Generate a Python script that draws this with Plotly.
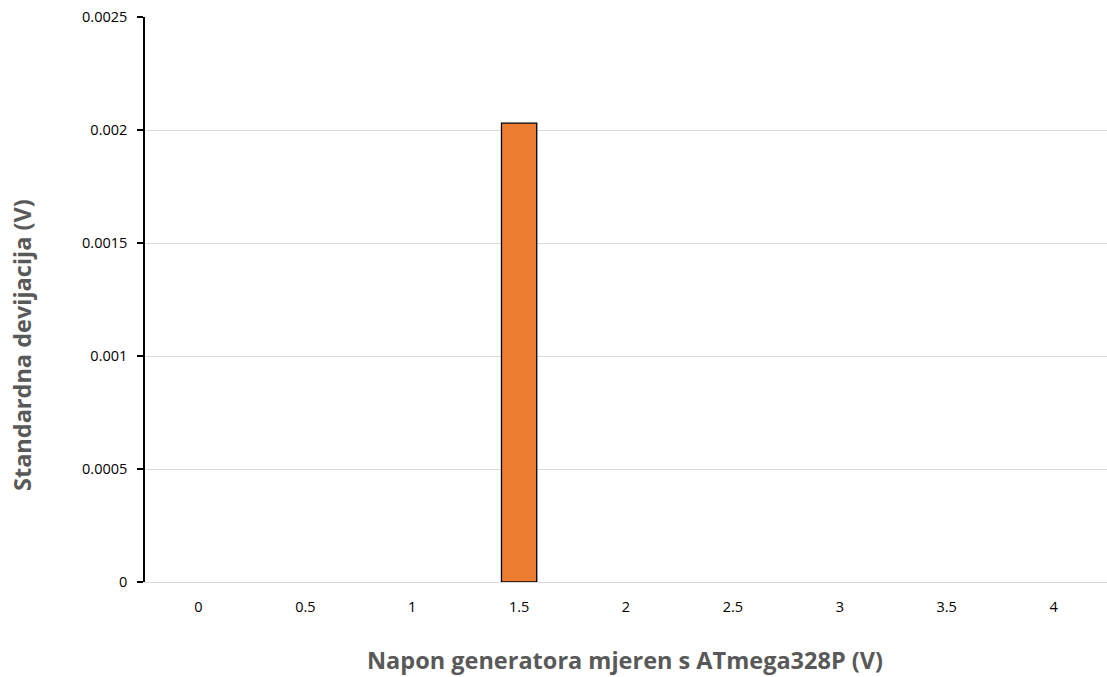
import plotly.graph_objects as go

categories = ["0", "0.5", "1", "1.5", "2", "2.5", "3", "3.5", "4"]
std_dev = [0, 0, 0, 0.00203, 0, 0, 0, 0, 0]
y_ticks = [0, 0.0005, 0.001, 0.0015, 0.002, 0.0025]
y_tick_labels = ["0", "0.0005", "0.001", "0.0015", "0.002", "0.0025"]
x_title = "Napon generatora mjeren s ATmega328P (V)"
y_title = "Standardna devijacija (V)"

W, H = 1107, 677
L, R, T, B = 145, 0, 17, 95

# outline only for bars with height (zero bars are invisible in the reference)
outline_widths = [1.3 if v > 0 else 0 for v in std_dev]

fig = go.Figure(
    go.Bar(
        x=categories,
        y=std_dev,
        marker=dict(color="#ED7D31", line=dict(color="#000000", width=outline_widths)),
    )
)

fig.update_layout(
    width=W,
    height=H,
    paper_bgcolor="white",
    plot_bgcolor="white",
    margin=dict(l=L, r=R, t=T, b=B, autoexpand=False),
    bargap=0.67,
    showlegend=False,
    font=dict(family="Open Sans, Liberation Sans, sans-serif", color="#000000", size=14),
)

fig.update_xaxes(
    type="category",
    automargin=False,
    showline=False,
    showgrid=False,
    ticks="",
    tickfont=dict(size=14.5, color="#000000"),
    ticklabelstandoff=14,
)

fig.update_yaxes(
    range=[0, 0.0025],
    automargin=False,
    tickvals=y_ticks,
    ticktext=y_tick_labels,
    showline=True,
    linecolor="#000000",
    linewidth=1.5,
    ticks="outside",
    ticklen=6,
    tickcolor="#000000",
    tickwidth=1.5,
    showgrid=True,
    gridcolor="#d9d9d9",
    gridwidth=1,
    zeroline=True,
    zerolinecolor="#d9d9d9",
    zerolinewidth=1,
    tickfont=dict(size=14.5, color="#000000"),
    ticklabelstandoff=7,
)

pw, ph = W - L - R, H - T - B
fig.add_annotation(
    text=f"<b>{x_title}</b>",
    xref="paper", yref="paper",
    x=(625 - L) / pw, y=(H - B - 660) / ph,
    xanchor="center", yanchor="middle",
    showarrow=False,
    font=dict(size=23.5, color="#595959"),
)
fig.add_annotation(
    text=f"<b>{y_title}</b>",
    xref="paper", yref="paper",
    x=(22 - L) / pw, y=(H - B - 345) / ph,
    xanchor="center", yanchor="middle",
    textangle=-90,
    showarrow=False,
    font=dict(size=23.5, color="#595959"),
)

fig.write_html(
    "out.html",
    config={"displayModeBar": False},
    post_script="document.body.style.margin='0px';document.body.style.overflow='hidden';",
)
